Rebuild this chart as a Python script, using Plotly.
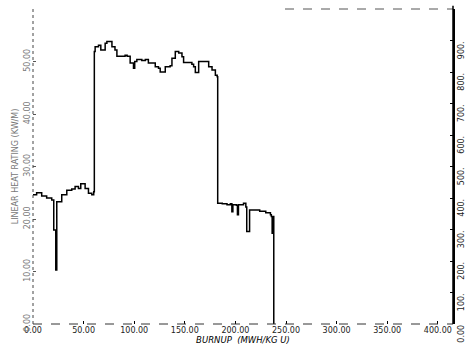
import plotly.graph_objects as go

# Burnup (MWh/kg U) and linear heat rating (kW/m)
burnup = [0, 3.6, 8.6, 13.5, 18.5, 20.5, 22.5, 23.5, 28.4, 33.4, 38.3, 41.6, 44.9,
          47.2, 51.5, 54.8, 58.1, 60.0, 60.6, 61.4, 64.7, 67.0, 71.3, 73.0, 76.0,
          78.0, 81.0, 82.9, 88.0, 91.0, 93.0, 96.0, 99.3, 100.5, 102.6, 107.5,
          111.0, 114.0, 117.0, 120.8, 124.0, 125.7, 129.0, 130.7, 135.5, 137.3,
          140.6, 144.0, 147.2, 148.8, 153.7, 157.0, 158.7, 160.4, 163.7, 170.3,
          173.6, 176.9, 180.2, 182.0, 182.5, 187.0, 191.7, 195.0, 196.5, 197.5,
          201.0, 202.0, 203.0, 208.0, 210.3, 211.2, 213.0, 214.0, 218.0, 224.0,
          230.0, 234.6, 235.5, 236.3, 237.3, 237.9, 238.2]
power = [24.6, 25.0, 24.4, 24.0, 23.6, 17.9, 10.3, 23.3, 24.6, 25.5, 25.7, 26.2, 25.8,
         26.7, 25.8, 24.9, 24.6, 25.2, 51.9, 52.8, 53.1, 52.2, 53.5, 53.8, 53.8,
         52.8, 52.2, 51.0, 51.0, 51.2, 51.0, 49.7, 48.7, 50.0, 50.4, 50.2,
         50.4, 49.7, 49.7, 49.0, 48.7, 48.0, 48.0, 49.0, 49.2, 50.6,
         51.9, 51.6, 50.9, 49.8, 49.8, 49.5, 49.0, 47.9, 50.0, 50.0,
         49.0, 48.4, 47.4, 47.1, 23.0, 22.9, 22.7, 22.9, 21.4, 22.7,
         22.6, 20.8, 22.7, 23.0, 22.3, 17.6, 17.6, 21.7, 21.7, 21.5,
         21.2, 20.8, 20.5, 17.3, 20.5, 0.0, 0.0]

x_ticks = [0, 50, 100, 150, 200, 250, 300, 350, 400]
x_ticktext = ["0.00", "50.00", "100.00", "150.00", "200.00", "250.00",
              "300.00", "350.00", "400.00"]
left_ticks = [0, 10, 20, 30, 40, 50]
left_ticktext = ["0.00", "10.00", "20.00", "30.00", "40.00", "50.00"]
right_ticks = [0, 100, 200, 300, 400, 500, 600, 700, 800, 900]
right_ticktext = ["0.00", "100.", "200.", "300.", "400.", "500.", "600.",
                  "700.", "800.", "900."]

FONT = "DejaVu Sans"

fig = go.Figure()
fig.add_trace(go.Scatter(
    x=burnup, y=power, mode="lines", line=dict(color="black", width=1.5, shape="hv"),
    showlegend=False, hoverinfo="skip"))
# invisible helper trace so the right-hand axis is drawn
fig.add_trace(go.Scatter(x=burnup[:1], y=right_ticks[:1], yaxis="y2", mode="markers",
                         marker=dict(opacity=0), showlegend=False, hoverinfo="skip"))

fig.update_layout(
    width=465, height=351,
    margin=dict(l=33, r=12, t=9, b=27, autoexpand=False),
    paper_bgcolor="white", plot_bgcolor="white",
    font=dict(family=FONT, size=8, color="black"),
    hovermode=False,
    xaxis=dict(
        range=[0, 415], tickvals=x_ticks, ticktext=x_ticktext,
        showgrid=False, zeroline=False, showline=False,
        ticks="inside", ticklen=3, tickcolor="black",
        tickfont=dict(size=8, color="#222"),
        title=dict(text="<i>BURNUP  (MWH/KG U)</i>", font=dict(size=8.5), standoff=1),
        automargin=False,
    ),
    yaxis=dict(
        range=[0, 60], tickvals=left_ticks, ticktext=left_ticktext,
        showgrid=False, zeroline=False, showline=False,
        ticks="inside", ticklen=3, tickcolor="#555",
        tickangle=-90, tickfont=dict(size=8, color="#777"),
        title=dict(text="LINEAR HEAT RATING (KW/M)", font=dict(size=8, color="#777"), standoff=3),
        automargin=False,
    ),
    yaxis2=dict(
        range=[0, 1000], tickvals=right_ticks, ticktext=right_ticktext,
        overlaying="y", side="right", anchor="x",
        showgrid=False, zeroline=False, showline=True, linecolor="black", linewidth=1.5,
        ticks="inside", ticklen=3, tickcolor="black",
        tickangle=-90, tickfont=dict(size=8, color="#222"),
        ticklabelshift=11,
        automargin=False,
    ),
    shapes=[
        dict(type="line", xref="paper", yref="paper", x0=0, x1=0, y0=0, y1=1,
             line=dict(color="#444", width=1, dash="dot")),
        dict(type="line", xref="paper", yref="paper", x0=0, x1=1, y0=0, y1=0,
             line=dict(color="#333", width=1, dash="dash")),
        dict(type="line", xref="paper", yref="paper", x0=0.6, x1=1, y0=1, y1=1,
             line=dict(color="#555", width=1, dash="dash")),
        dict(type="line", xref="paper", yref="paper", x0=1, x1=1, y0=0, y1=1.01,
             line=dict(color="black", width=1.5)),
    ],
)

fig.write_html(
    "out.html",
    config={"displayModeBar": False},
    post_script="document.body.style.margin='0';document.body.style.overflow='hidden';",
)
